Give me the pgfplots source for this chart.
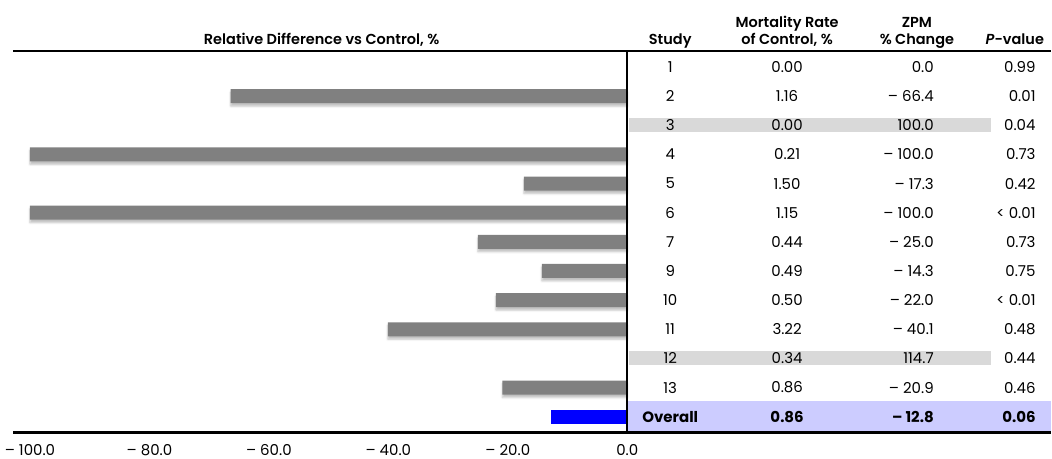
\documentclass[border=0pt]{standalone}
\usepackage{fontspec}
\setmainfont{Poppins}
\newfontfamily\medfont{Poppins SemiBold}
\usepackage{pgfplots}
\usepackage{pgfplotstable}
\pgfplotsset{compat=1.18}
\usetikzlibrary{shadows.blur}

\definecolor{bargray}{RGB}{128,128,128}
\definecolor{barblue}{RGB}{0,0,255}
\definecolor{hlgray}{RGB}{217,217,217}
\definecolor{lavender}{RGB}{204,204,255}

\newcommand\vf{\fontsize{15}{17}\selectfont}
\newcommand\hf{\fontsize{14.5}{17}\selectfont\medfont}
\newcommand\of{\fontsize{15}{17}\selectfont\bfseries}

% row index (1 = top), relative difference vs control
\pgfplotstableread{
row val
2 -66.4
4 -100
5 -17.3
6 -100
7 -25.0
8 -14.3
9 -22.0
10 -40.1
12 -20.9
}\studies
\pgfplotstableread{
row val
13 -12.8
}\overall

% one table row: index, study, mortality, zpm, p, font
\newcommand\trow[6]{%
  \node[font=#6, inner sep=0pt] at (axis cs:7.19,#1) {#2};
  \node[font=#6, inner sep=0pt] at (axis cs:26.76,#1) {#3};
  \node[font=#6, inner sep=0pt, anchor=east] at (axis cs:51.34,#1) {#4};
  \node[font=#6, inner sep=0pt, anchor=east] at (axis cs:68.39,#1) {#5};
}

\begin{document}
\begin{tikzpicture}
\begin{axis}[
  scale only axis, width=1052pt, height=455pt,
  xmin=-105.02, xmax=70.90,
  ymin=-1.297, ymax=14.30, y dir=reverse,
  axis line style={draw=none},
  ytick=\empty,
  xtick={-100,-80,-60,-40,-20,0},
  xticklabels={– 100.0,– 80.0,– 60.0,– 40.0,– 20.0,0.0},
  major tick length=0pt,
  xticklabel style={font=\fontsize{15}{17}\selectfont, yshift=14pt},
  clip=false,
  xbar, bar width=14pt, bar shift=0pt,
]
% highlighted rows
\fill[hlgray] (axis cs:0.33,2.76) rectangle (axis cs:60.87,3.24);
\fill[hlgray] (axis cs:0.33,10.76) rectangle (axis cs:60.87,11.24);
\fill[lavender] (axis cs:0.2,12.45) rectangle (axis cs:70.9,13.547);

\addplot[fill=bargray, draw=none,
  blur shadow={shadow xshift=0pt, shadow yshift=-3pt, shadow blur radius=2pt, shadow opacity=25}]
  table[x=val, y=row] {\studies};
\addplot[fill=barblue, draw=none] table[x=val, y=row] {\overall};

% rules
\draw[line width=2.5pt] (axis cs:-102.84,0.4515) -- (axis cs:70.9,0.4515);
\draw[line width=2.5pt] (axis cs:-102.84,13.547) -- (axis cs:70.9,13.547);
\draw[line width=2pt] (axis cs:0,0.4515) -- (axis cs:0,13.547);

% headers
\node[font=\hf, anchor=base] at (axis cs:-51.17,0.2115) {Relative Difference vs Control, \%};
\node[font=\hf, anchor=base] at (axis cs:7.19,0.2115) {Study};
\node[font=\hf, anchor=base] at (axis cs:26.76,-0.371) {Mortality Rate};
\node[font=\hf, anchor=base] at (axis cs:26.76,0.2115) {of Control, \%};
\node[font=\hf, anchor=base] at (axis cs:48.49,-0.371) {ZPM};
\node[font=\hf, anchor=base] at (axis cs:48.49,0.2115) {\% Change};
\node[font=\hf, anchor=base] at (axis cs:64.88,0.2115) {\textit{P}-value};

% table body
\trow{1}{1}{0.00}{0.0}{0.99}{\vf}
\trow{2}{2}{1.16}{– 66.4}{0.01}{\vf}
\trow{3}{3}{0.00}{100.0}{0.04}{\vf}
\trow{4}{4}{0.21}{– 100.0}{0.73}{\vf}
\trow{5}{5}{1.50}{– 17.3}{0.42}{\vf}
\trow{6}{6}{1.15}{– 100.0}{< 0.01}{\vf}
\trow{7}{7}{0.44}{– 25.0}{0.73}{\vf}
\trow{8}{9}{0.49}{– 14.3}{0.75}{\vf}
\trow{9}{10}{0.50}{– 22.0}{< 0.01}{\vf}
\trow{10}{11}{3.22}{– 40.1}{0.48}{\vf}
\trow{11}{12}{0.34}{114.7}{0.44}{\vf}
\trow{12}{13}{0.86}{– 20.9}{0.46}{\vf}
\trow{13}{Overall}{0.86}{– 12.8}{0.06}{\of}
\end{axis}
\end{tikzpicture}
\end{document}
